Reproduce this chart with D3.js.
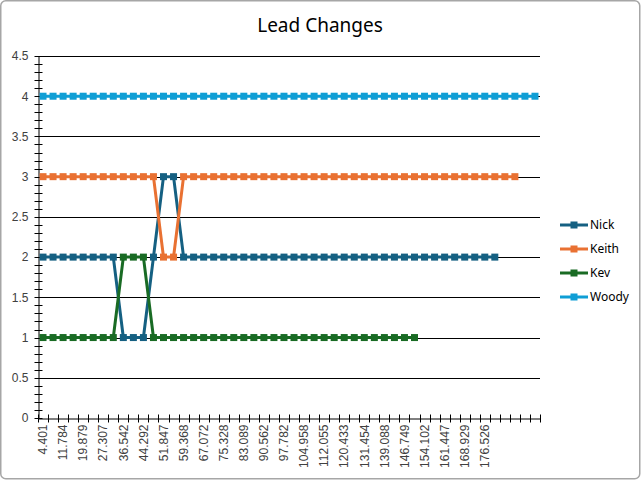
<!DOCTYPE html>
<html>
<head>
<meta charset="utf-8">
<script src="https://cdn.jsdelivr.net/npm/d3@7"></script>
<style>
  html, body { margin: 0; padding: 0; background: #fff; }
  svg { display: block; }
</style>
</head>
<body>
<svg id="chart" width="641" height="480"></svg>
<script>
// ---- data ----
const categories = [
  "4.401", "8.1", "11.784", "15.9", "19.879", "23.6", "27.307", "31.9", "36.542", "40.4",
  "44.292", "48.1", "51.847", "55.6", "59.368", "63.2", "67.072", "71.2", "75.328", "79.2",
  "83.089", "86.8", "90.562", "94.2", "97.782", "101.4", "104.958", "108.5", "112.055", "116.2",
  "120.433", "125.9", "131.454", "135.3", "139.088", "142.9", "146.749", "150.4", "154.102", "157.8",
  "161.447", "165.2", "168.929", "172.7", "176.526", "180.3", "", "", "", ""
];
const seriesNames = ["Nick", "Keith", "Kev", "Woody"];
const seriesColors = ["#156082", "#E97132", "#196B24", "#0F9ED5"];
const nick  = [2,2,2,2,2,2,2,2,1,1, 1,2,3,3,2,2,2,2,2,2, 2,2,2,2,2,2,2,2,2,2, 2,2,2,2,2,2,2,2,2,2, 2,2,2,2,2,2];
const keith = [3,3,3,3,3,3,3,3,3,3, 3,3,2,2,3,3,3,3,3,3, 3,3,3,3,3,3,3,3,3,3, 3,3,3,3,3,3,3,3,3,3, 3,3,3,3,3,3,3,3];
const kev   = [1,1,1,1,1,1,1,1,2,2, 2,1,1,1,1,1,1,1,1,1, 1,1,1,1,1,1,1,1,1,1, 1,1,1,1,1,1,1,1];
const woody = [4,4,4,4,4,4,4,4,4,4, 4,4,4,4,4,4,4,4,4,4, 4,4,4,4,4,4,4,4,4,4, 4,4,4,4,4,4,4,4,4,4, 4,4,4,4,4,4,4,4,4,4];
const seriesValues = [nick, keith, kev, woody];
const yMajorTicks = [0, 0.5, 1, 1.5, 2, 2.5, 3, 3.5, 4, 4.5];
const yMinorTicks = d3.range(0, 46).map(i => i / 10);
const title = "Lead Changes";

// ---- layout ----
const svg = d3.select("#chart");
const W = 641, H = 480;
const plot = { left: 38, right: 540, top: 56, bottom: 418 };

svg.append("rect")
  .attr("x", 0.75).attr("y", 0.75).attr("width", W - 2).attr("height", H - 2)
  .attr("rx", 5).attr("fill", "#fff").attr("stroke", "#a6a6a6").attr("stroke-width", 1.5);

const x = d3.scaleBand().domain(d3.range(categories.length)).range([plot.left, plot.right]).padding(0);
const xc = i => x(i) + x.bandwidth() / 2;
const y = d3.scaleLinear().domain([0, 4.5]).range([plot.bottom, plot.top]);

// title
svg.append("text")
  .attr("x", 320).attr("y", 32)
  .attr("text-anchor", "middle")
  .attr("font-family", "'Noto Sans', 'Open Sans', sans-serif")
  .attr("font-size", 19)
  .attr("fill", "#000")
  .text(title);

// gridlines
svg.append("g").selectAll("line")
  .data(yMajorTicks.filter(d => d > 0))
  .join("line")
  .attr("x1", plot.left).attr("x2", plot.right)
  .attr("y1", d => Math.round(y(d)) + 0.5).attr("y2", d => Math.round(y(d)) + 0.5)
  .attr("stroke", "#000").attr("stroke-width", 1);

// y axis
const yAxis = d3.axisLeft(y).tickValues(yMajorTicks).tickSize(0).tickPadding(10)
  .tickFormat(d => String(d));
const gy = svg.append("g").attr("transform", `translate(${plot.left + 0.5},0)`).call(yAxis);
gy.select(".domain").attr("stroke", "#000");
gy.selectAll("text")
  .attr("font-family", "'Liberation Sans', Arial, sans-serif")
  .attr("font-size", 12).attr("fill", "#404040");
// minor cross ticks
svg.append("g").selectAll("line")
  .data(yMinorTicks)
  .join("line")
  .attr("x1", plot.left - 3.5).attr("x2", plot.left + 4.5)
  .attr("y1", d => Math.round(y(d)) + 0.5).attr("y2", d => Math.round(y(d)) + 0.5)
  .attr("stroke", "#000").attr("stroke-width", 1);

// x axis
const xAxis = d3.axisBottom(x).tickSize(0).tickPadding(0)
  .tickFormat((d, i) => (i % 2 === 0 ? categories[i] : ""));
const gx = svg.append("g").attr("transform", `translate(0,${plot.bottom + 0.5})`).call(xAxis);
gx.select(".domain").attr("stroke", "#000");
gx.selectAll("text")
  .attr("font-family", "'Liberation Sans', Arial, sans-serif")
  .attr("font-size", 12).attr("fill", "#404040")
  .attr("text-anchor", "end")
  .attr("transform", "rotate(-90)")
  .attr("x", -6).attr("y", 0).attr("dy", "0.35em");
// boundary cross ticks
svg.append("g").selectAll("line")
  .data(d3.range(categories.length + 1))
  .join("line")
  .attr("x1", i => Math.round(plot.left + i * x.bandwidth()) + 0.5)
  .attr("x2", i => Math.round(plot.left + i * x.bandwidth()) + 0.5)
  .attr("y1", plot.bottom - 3.5).attr("y2", plot.bottom + 4.5)
  .attr("stroke", "#000").attr("stroke-width", 1);

// series
const line = d3.line().x((d, i) => xc(i)).y(d => y(d));
seriesValues.forEach((vals, s) => {
  const g = svg.append("g");
  g.append("path").datum(vals)
    .attr("d", line)
    .attr("fill", "none")
    .attr("stroke", seriesColors[s])
    .attr("stroke-width", 3)
    .attr("stroke-linejoin", "round");
  g.selectAll("rect").data(vals).join("rect")
    .attr("x", (d, i) => xc(i) - 3.5).attr("y", d => y(d) - 3.5)
    .attr("width", 7).attr("height", 7)
    .attr("fill", seriesColors[s]);
});

// legend
const legend = svg.append("g");
seriesNames.forEach((name, s) => {
  const ly = 225 + s * 24;
  legend.append("line")
    .attr("x1", 560).attr("x2", 588).attr("y1", ly).attr("y2", ly)
    .attr("stroke", seriesColors[s]).attr("stroke-width", 3);
  legend.append("rect")
    .attr("x", 570.5).attr("y", ly - 3.5).attr("width", 7).attr("height", 7)
    .attr("fill", seriesColors[s]);
  legend.append("text")
    .attr("x", 590).attr("y", ly).attr("dy", "0.35em")
    .attr("font-family", "'Noto Sans', 'Open Sans', sans-serif")
    .attr("font-size", 12).attr("fill", "#000")
    .text(name);
});
</script>
</body>
</html>
